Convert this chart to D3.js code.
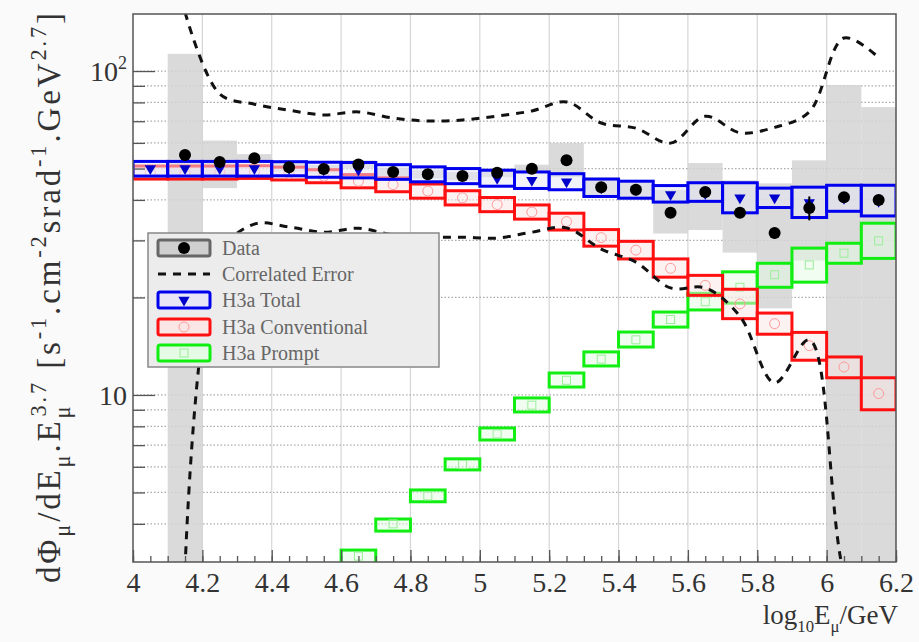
<!DOCTYPE html>
<html>
<head>
<meta charset="utf-8">
<script src="https://cdn.jsdelivr.net/npm/d3@7"></script>
<style>
  body { margin: 0; background: #fafafa; }
  text { font-family: "Liberation Serif", "Times New Roman", serif; }
</style>
</head>
<body>
<div class="chart"></div>
<script>
// ---- data ----
var modelX = [4.05, 4.15, 4.25, 4.35, 4.45, 4.55, 4.65, 4.75, 4.85, 4.95, 5.05,
              5.15, 5.25, 5.35, 5.45, 5.55, 5.65, 5.75, 5.85, 5.95, 6.05, 6.15];

var totalVal = [50, 50, 50, 50, 50, 49.6, 49.5, 48.8, 48, 47.4, 46.7, 46, 45.5, 43.6, 43, 41.6, 41.9, 40.6, 40.6, 39.3, 40.5, 39.6];
var totalLo  = [47.4, 47.4, 47.4, 47.4, 47.5, 47, 46.8, 46.3, 45.5, 44.9, 44.1, 43.4, 43, 41, 40.5, 39.4, 39.6, 36.5, 37.9, 35.3, 36.9, 35.7];
var totalHi  = [52.6, 52.6, 52.6, 52.6, 52.5, 52.3, 52.2, 51.4, 50.6, 50, 49.4, 48.8, 48.2, 46.4, 45.7, 44.3, 45.2, 45.2, 43.5, 43.8, 44.4, 44.4];

var convVal = [48.6, 48.6, 48.6, 48.8, 48.3, 47.4, 45.7, 44.6, 42.6, 40.6, 38.7, 36.7, 34.3, 30.6, 28, 24.6, 21.8, 19.1, 16.6, 14.2, 12.2, 10.1];
var convLo  = [46.4, 46.4, 46.4, 46.6, 46.1, 45.2, 43.6, 42.4, 40.5, 38.6, 36.8, 34.9, 32.3, 28.8, 26.3, 23.1, 20.3, 17.2, 15.4, 12.8, 11.3, 9.0];
var convHi  = [50.9, 50.9, 50.9, 51.0, 50.5, 49.6, 47.9, 46.8, 44.8, 42.7, 40.7, 38.6, 36.4, 32.4, 29.8, 26.3, 23.4, 21.2, 17.9, 15.6, 13.1, 11.3];

var promptX   = [4.65, 4.75, 4.85, 4.95, 5.05, 5.15, 5.25, 5.35, 5.45, 5.55, 5.65, 5.75, 5.85, 5.95, 6.05, 6.15];
var promptVal = [3.18, 4.0, 4.88, 6.1, 7.58, 9.3, 11.1, 12.9, 14.8, 17.1, 19.4, 21.5, 23.5, 25.2, 27.4, 29.9];
var promptLo  = [3.0, 3.8, 4.68, 5.87, 7.26, 8.86, 10.58, 12.29, 14.06, 16.2, 18.3, 19.2, 21.5, 22.3, 25.5, 26.4];
var promptHi  = [3.32, 4.14, 5.09, 6.35, 7.91, 9.79, 11.69, 13.58, 15.64, 18.03, 20.6, 24.0, 25.5, 28.4, 29.4, 33.9];

var dataX   = [4.15, 4.25, 4.35, 4.45, 4.55, 4.65, 4.75, 4.85, 4.95, 5.05, 5.15,
               5.25, 5.35, 5.45, 5.55, 5.65, 5.75, 5.85, 5.95, 6.05, 6.15];
var dataVal = [55.1, 52.4, 53.8, 50.5, 49.8, 51.5, 48.8, 48.0, 47.4, 48.5, 49.9, 53.0, 43.8, 43.0, 36.5, 42.3, 36.5, 31.6, 37.8, 40.8, 40.0];
var dataStat = [0.5, 0.5, 0.5, 0.5, 0.5, 0.5, 0.5, 0.5, 0.5, 0.6, 0.6, 0.7, 0.7, 0.8, 0.9, 1.0, 1.2, 1.2, 3.2, 1.5, 1.5];
var sysLo = [2.5, 43.5, 52.2, 49.0, 48.3, 50.0, 47.3, 46.6, 46.0, 47.0, 48.4, 47, 41, 40, 31.5, 32.3, 27.5, 18.5, 26, 2.5, 2.5];
var sysHi = [113, 61, 55.4, 52.0, 51.3, 53.0, 50.3, 49.4, 48.8, 50.0, 51.4, 60, 47, 46, 43, 52, 46, 45, 53, 90.6, 77.4];

var corrHi = [152, 85, 79, 75.7, 73.2, 74.8, 71.6, 70.1, 70.6, 72.6, 75.3, 80.3, 69.1, 66.6, 59.9, 72.5, 64.5, 67, 74.8, 126.5, 110];
var corrLo = [2.9, 27, 33.7, 33.0, 31.8, 32.7, 31.2, 30.7, 30.7, 30.5, 31.8, 32.8, 28.2, 25.7, 21.4, 21.4, 17.5, 10.9, 14.8, 2.8, 1.5];

var xTicks = [4, 4.2, 4.4, 4.6, 4.8, 5, 5.2, 5.4, 5.6, 5.8, 6, 6.2];
var xTickLabels = ["4", "4.2", "4.4", "4.6", "4.8", "5", "5.2", "5.4", "5.6", "5.8", "6", "6.2"];
var yMajor = [10, 100];
var yMinor = [4, 5, 6, 7, 8, 9, 20, 30, 40, 50, 60, 70, 80, 90];
var legendLabels = ["Data", "Correlated Error", "H3a Total", "H3a Conventional", "H3a Prompt"];

// ---- layout ----
var svgWidth = 919, svgHeight = 642;
var margin = { top: 14, right: 23, bottom: 80, left: 133 };
var width = svgWidth - margin.left - margin.right;
var height = svgHeight - margin.top - margin.bottom;
var binW = 0.1;

var svg = d3.select(".chart").append("svg")
  .attr("width", svgWidth)
  .attr("height", svgHeight);

svg.append("defs").append("clipPath").attr("id", "clip")
  .append("rect").attr("width", width).attr("height", height);

var chart = svg.append("g")
  .attr("transform", "translate(" + margin.left + "," + margin.top + ")");

var x = d3.scaleLinear().domain([4, 6.2]).range([0, width]);
var y = d3.scaleLog().domain([3.05, 150]).range([height, 0]);

chart.append("rect").attr("width", width).attr("height", height).attr("fill", "#fff");

// grid
chart.append("g").selectAll("line").data(xTicks.slice(1, -1)).enter().append("line")
  .attr("x1", function(d) { return x(d); }).attr("x2", function(d) { return x(d); })
  .attr("y1", 0).attr("y2", height)
  .attr("stroke", "#d6d6d6").attr("stroke-width", 1.2);
chart.append("g").selectAll("line").data(yMinor.concat(yMajor)).enter().append("line")
  .attr("x1", 0).attr("x2", width)
  .attr("y1", function(d) { return y(d); }).attr("y2", function(d) { return y(d); })
  .attr("stroke", "#aaa").attr("stroke-width", 1.2).attr("stroke-dasharray", "1.5,2");

var plot = chart.append("g").attr("clip-path", "url(#clip)");

// systematic boxes of the data
plot.append("g").selectAll("rect").data(dataX).enter().append("rect")
  .attr("x", function(d) { return x(d - binW / 2); })
  .attr("width", function(d) { return x(d + binW / 2) - x(d - binW / 2); })
  .attr("y", function(d, i) { return y(sysHi[i]); })
  .attr("height", function(d, i) { return y(sysLo[i]) - y(sysHi[i]); })
  .attr("fill", "#d4d4d4").attr("opacity", 0.85);

function boxes(xs, lo, hi, color, tint) {
  plot.append("g").selectAll("rect").data(xs).enter().append("rect")
    .attr("x", function(d) { return x(d - binW / 2); })
    .attr("width", function(d) { return x(d + binW / 2) - x(d - binW / 2); })
    .attr("y", function(d, i) { return y(hi[i]); })
    .attr("height", function(d, i) { return y(lo[i]) - y(hi[i]); })
    .attr("fill", tint).attr("fill-opacity", 0.5)
    .attr("stroke", color).attr("stroke-width", 3);
}

boxes(promptX, promptLo, promptHi, "#11ee11", "#e6fbe6");
plot.append("g").selectAll("rect").data(promptX).enter().append("rect")
  .attr("x", function(d) { return x(d) - 4; })
  .attr("y", function(d, i) { return y(promptVal[i]) - 4; })
  .attr("width", 8).attr("height", 8)
  .attr("fill", "none").attr("stroke", "#9e9").attr("stroke-width", 1);

boxes(modelX, convLo, convHi, "#ff1010", "#fbe6e6");
plot.append("g").selectAll("circle").data(modelX).enter().append("circle")
  .attr("cx", function(d) { return x(d); })
  .attr("cy", function(d, i) { return y(convVal[i]); })
  .attr("r", 5).attr("fill", "none").attr("stroke", "#f99").attr("stroke-width", 1);

boxes(modelX, totalLo, totalHi, "#0000ee", "#e6e6f7");
var tri = d3.symbol().type(d3.symbolTriangle).size(55);
plot.append("g").selectAll("path").data(modelX).enter().append("path")
  .attr("d", tri)
  .attr("transform", function(d, i) { return "translate(" + x(d) + "," + y(totalVal[i]) + ") rotate(180)"; })
  .attr("fill", "#0000cc");

// correlated error band edges
var curve = d3.line()
  .x(function(d) { return x(d[0]); })
  .y(function(d) { return y(d[1]); })
  .curve(d3.curveCatmullRom.alpha(0.5));
[corrHi, corrLo].forEach(function(arr) {
  plot.append("path")
    .attr("d", curve(dataX.map(function(d, i) { return [d, arr[i]]; })))
    .attr("fill", "none").attr("stroke", "#111").attr("stroke-width", 3)
    .attr("stroke-dasharray", "8,7");
});

// data points
plot.append("g").selectAll("line").data(dataX).enter().append("line")
  .attr("x1", function(d) { return x(d); }).attr("x2", function(d) { return x(d); })
  .attr("y1", function(d, i) { return y(dataVal[i] - dataStat[i]); })
  .attr("y2", function(d, i) { return y(dataVal[i] + dataStat[i]); })
  .attr("stroke", "#000").attr("stroke-width", 2);
plot.append("g").selectAll("circle").data(dataX).enter().append("circle")
  .attr("cx", function(d) { return x(d); })
  .attr("cy", function(d, i) { return y(dataVal[i]); })
  .attr("r", 6).attr("fill", "#000");

// axes
var xMinorTicks = d3.range(0, 45).map(function(i) { return 4 + i * 0.05; });
chart.append("g").attr("transform", "translate(0," + height + ")")
  .call(d3.axisBottom(x).tickValues(xMinorTicks).tickSize(-6).tickFormat(""));
var bottomAxis = chart.append("g").attr("transform", "translate(0," + height + ")")
  .call(d3.axisBottom(x).tickValues(xTicks).tickSize(-12).tickPadding(5)
    .tickFormat(function(d, i) { return xTickLabels[i]; }));
chart.append("g").call(d3.axisLeft(y).tickValues(yMinor).tickSize(-12).tickFormat(""));
var leftAxis = chart.append("g")
  .call(d3.axisLeft(y).tickValues(yMajor).tickSize(-22).tickPadding(6).tickFormat(""));

chart.selectAll(".domain").remove();
chart.selectAll(".tick line").attr("stroke", "#555").attr("stroke-width", 1.3);
bottomAxis.selectAll("text").attr("font-size", 28).attr("fill", "#333")
  .attr("font-family", "Liberation Serif").attr("dy", "0.9em");

leftAxis.selectAll(".tick").each(function(d) {
  var t = d3.select(this).append("text")
    .attr("x", -6).attr("dy", "0.35em").attr("text-anchor", "end")
    .attr("font-size", 28).attr("fill", "#333");
  if (d === 100) {
    t.append("tspan").text("10");
    t.append("tspan").attr("dy", -12).attr("font-size", 18).text("2");
  } else {
    t.text("10");
  }
});

chart.append("rect").attr("width", width).attr("height", height)
  .attr("fill", "none").attr("stroke", "#555").attr("stroke-width", 1.5);

// rich text helper: parts = [text, "n"|"sub"|"sup", dx]
function rich(sel, parts, size, small) {
  var cur = 0;
  parts.forEach(function(p) {
    var shift = p[1] === "sub" ? size * 0.3 : (p[1] === "sup" ? -size * 0.42 : 0);
    var t = sel.append("tspan").attr("dy", shift - cur).text(p[0]);
    if (p[1] !== "n") t.attr("font-size", size * small);
    if (p[2]) t.attr("dx", p[2]);
    cur = shift;
  });
}

var yTitle = svg.append("text")
  .attr("transform", "translate(60,298) rotate(-90)")
  .attr("text-anchor", "middle").attr("font-size", 33).attr("fill", "#333")
  .attr("textLength", 570).attr("lengthAdjust", "spacing");
rich(yTitle, [["d\u03a6", "n"], ["\u03bc", "sub"], ["/dE", "n"], ["\u03bc", "sub"], [".E", "n"],
  ["\u03bc", "sub"], ["3.7", "sup", -13], [" [s", "n"], ["-1", "sup"], [".cm", "n"], ["-2", "sup"],
  ["srad", "n"], ["-1", "sup"], [".GeV", "n"], ["2.7", "sup"], ["]", "n"]], 33, 0.68);

var xTitle = svg.append("text")
  .attr("x", margin.left + width + 2).attr("y", 624)
  .attr("text-anchor", "end").attr("font-size", 27).attr("fill", "#333");
rich(xTitle, [["log", "n"], ["10", "sub"], ["E", "n"], ["\u03bc", "sub"], ["/GeV", "n"]], 27, 0.62);

// legend
var legend = svg.append("g").attr("transform", "translate(148,233)");
legend.append("rect").attr("width", 291).attr("height", 134)
  .attr("fill", "#ececec").attr("stroke", "#888").attr("stroke-width", 1.5);
var rowY = [15, 41, 67, 94, 120];
legendLabels.forEach(function(label, i) {
  var g = legend.append("g").attr("transform", "translate(0," + rowY[i] + ")");
  if (i === 1) {
    g.append("line").attr("x1", 10).attr("x2", 62).attr("y1", 0).attr("y2", 0)
      .attr("stroke", "#111").attr("stroke-width", 3).attr("stroke-dasharray", "8,7");
  } else {
    var stroke = ["#666", null, "#0000ee", "#ff1010", "#11ee11"][i];
    var fill = ["#cfcfcf", null, "#e6e6f7", "#fbe6e6", "#e6fbe6"][i];
    g.append("rect").attr("x", 10).attr("y", -8).attr("width", 52).attr("height", 16).attr("rx", 2)
      .attr("fill", fill).attr("stroke", stroke).attr("stroke-width", 3);
    if (i === 0) g.append("circle").attr("cx", 36).attr("r", 6).attr("fill", "#000");
    if (i === 2) g.append("path").attr("d", tri).attr("transform", "translate(36,0) rotate(180)").attr("fill", "#0000cc");
    if (i === 3) g.append("circle").attr("cx", 36).attr("r", 5).attr("fill", "none").attr("stroke", "#f99");
    if (i === 4) g.append("rect").attr("x", 32).attr("y", -4).attr("width", 8).attr("height", 8)
      .attr("fill", "none").attr("stroke", "#9e9");
  }
  g.append("text").attr("x", 74).attr("dy", "0.35em").attr("font-size", 20)
    .attr("fill", "#666").text(label);
});
</script>
</body>
</html>
